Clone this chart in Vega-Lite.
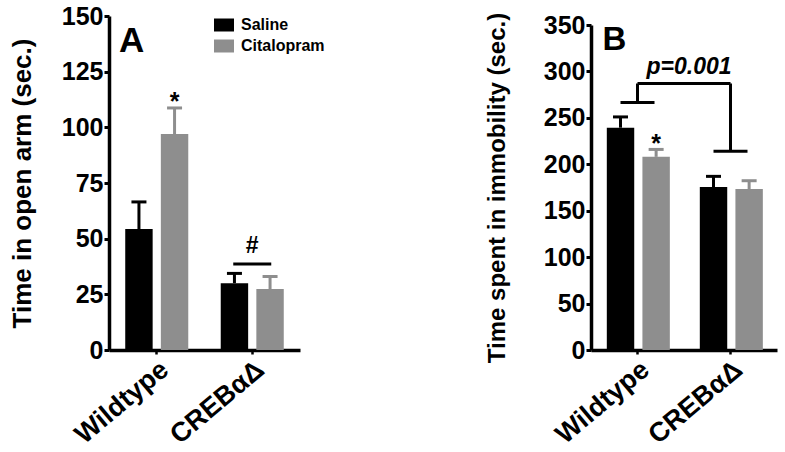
{
  "$schema": "https://vega.github.io/schema/vega-lite/v6.json",
  "padding": {"left": 9, "top": 4, "right": 5, "bottom": 5},
  "background": "#ffffff",
  "datasets": {
    "openArm": [
      {"genotype": "Wildtype", "treatment": "Saline", "value": 54.3, "err": 66.5},
      {"genotype": "Wildtype", "treatment": "Citalopram", "value": 97, "err": 108.7},
      {"genotype": "CREBαΔ", "treatment": "Saline", "value": 30, "err": 34.4},
      {"genotype": "CREBαΔ", "treatment": "Citalopram", "value": 27.4, "err": 33}
    ],
    "immobility": [
      {"genotype": "Wildtype", "treatment": "Saline", "value": 239.4, "err": 251},
      {"genotype": "Wildtype", "treatment": "Citalopram", "value": 208, "err": 216},
      {"genotype": "CREBαΔ", "treatment": "Saline", "value": 175.5, "err": 187},
      {"genotype": "CREBαΔ", "treatment": "Citalopram", "value": 173.4, "err": 182.3}
    ],
    "starA": [{"genotype": "Wildtype", "treatment": "Citalopram", "y": 108, "label": "*"}],
    "hashA": [{"genotype": "CREBαΔ", "y": 43.6, "bar": 38.6, "label": "#"}],
    "panelA": [{"genotype": "Wildtype", "y": 133.8, "label": "A"}],
    "starB": [{"genotype": "Wildtype", "treatment": "Citalopram", "y": 213, "label": "*"}],
    "panelB": [{"genotype": "Wildtype", "y": 323, "label": "B"}],
    "bracketV": [
      {"genotype": "Wildtype", "y": 266.6, "y2": 287},
      {"genotype": "CREBαΔ", "y": 214, "y2": 287}
    ],
    "bracketH": [{"genotype": "Wildtype", "genotype2": "CREBαΔ", "y": 287}],
    "bracketP": [{"genotype": "Wildtype", "y": 297, "label": "p=0.001"}]
  },
  "hconcat": [
    {
      "width": 191,
      "height": 334,
      "layer": [
        {
          "data": {"name": "openArm"},
          "mark": {"type": "bar"},
          "encoding": {
            "x": {"field": "genotype", "type": "nominal", "sort": ["Wildtype", "CREBαΔ"],
                  "scale": {"paddingInner": 0.34, "paddingOuter": 0.17},
                  "axis": {"title": null}},
            "xOffset": {"field": "treatment", "type": "nominal", "sort": ["Saline", "Citalopram"],
                        "scale": {"paddingInner": 0.23, "paddingOuter": 0}},
            "y": {"field": "value", "type": "quantitative",
                  "scale": {"domain": [0, 150], "nice": false},
                  "axis": {"title": "Time in open arm (sec.)", "values": [0, 25, 50, 75, 100, 125, 150], "titlePadding": 26, "titleFontSize": 26}},
            "color": {"field": "treatment", "type": "nominal",
                      "scale": {"domain": ["Saline", "Citalopram"], "range": ["#000000", "#8e8e8e"]},
                      "legend": {"orient": "none", "legendX": 105, "legendY": -1, "title": null,
                                 "symbolType": "M-1,-0.65H1V0.65H-1Z", "symbolSize": 400, "symbolStrokeWidth": 0,
                                 "labelFontSize": 16, "labelFontWeight": "bold", "labelFont": "Liberation Sans",
                                 "labelColor": "#000000", "labelOffset": 7, "rowPadding": 3, "padding": 0}}
          }
        },
        {
          "data": {"name": "openArm"},
          "mark": {"type": "rule", "strokeWidth": 3},
          "encoding": {
            "x": {"field": "genotype", "type": "nominal", "sort": ["Wildtype", "CREBαΔ"]},
            "xOffset": {"field": "treatment", "type": "nominal", "sort": ["Saline", "Citalopram"]},
            "y": {"field": "value", "type": "quantitative"},
            "y2": {"field": "err"},
            "color": {"field": "treatment", "type": "nominal", "legend": null}
          }
        },
        {
          "data": {"name": "openArm"},
          "mark": {"type": "tick", "orient": "horizontal", "size": 15, "thickness": 3, "opacity": 1},
          "encoding": {
            "x": {"field": "genotype", "type": "nominal", "sort": ["Wildtype", "CREBαΔ"]},
            "xOffset": {"field": "treatment", "type": "nominal", "sort": ["Saline", "Citalopram"]},
            "y": {"field": "err", "type": "quantitative"},
            "color": {"field": "treatment", "type": "nominal", "legend": null}
          }
        },
        {
          "data": {"name": "starA"},
          "mark": {"type": "text", "fontSize": 25, "fontWeight": "bold", "color": "#000000", "baseline": "alphabetic"},
          "encoding": {
            "x": {"field": "genotype", "type": "nominal", "sort": ["Wildtype", "CREBαΔ"]},
            "xOffset": {"field": "treatment", "type": "nominal", "sort": ["Saline", "Citalopram"]},
            "y": {"field": "y", "type": "quantitative"},
            "text": {"field": "label"}
          }
        },
        {
          "data": {"name": "hashA"},
          "mark": {"type": "text", "fontSize": 23, "fontWeight": "bold", "color": "#000000", "baseline": "alphabetic"},
          "encoding": {
            "x": {"field": "genotype", "type": "nominal", "sort": ["Wildtype", "CREBαΔ"]},
            "y": {"field": "y", "type": "quantitative"},
            "text": {"field": "label"}
          }
        },
        {
          "data": {"name": "hashA"},
          "mark": {"type": "tick", "orient": "horizontal", "size": 38, "thickness": 3, "color": "#000000", "opacity": 1},
          "encoding": {
            "x": {"field": "genotype", "type": "nominal", "sort": ["Wildtype", "CREBαΔ"]},
            "y": {"field": "bar", "type": "quantitative"}
          }
        },
        {
          "data": {"name": "panelA"},
          "mark": {"type": "text", "fontSize": 35, "fontWeight": "bold", "color": "#000000", "baseline": "alphabetic", "align": "center", "dx": -25},
          "encoding": {
            "x": {"field": "genotype", "type": "nominal", "sort": ["Wildtype", "CREBαΔ"]},
            "y": {"field": "y", "type": "quantitative"},
            "text": {"field": "label"}
          }
        }
      ]
    },
    {
      "width": 186,
      "height": 334,
      "layer": [
        {
          "data": {"name": "immobility"},
          "mark": {"type": "bar"},
          "encoding": {
            "x": {"field": "genotype", "type": "nominal", "sort": ["Wildtype", "CREBαΔ"],
                  "scale": {"paddingInner": 0.34, "paddingOuter": 0.17},
                  "axis": {"title": null}},
            "xOffset": {"field": "treatment", "type": "nominal", "sort": ["Saline", "Citalopram"],
                        "scale": {"paddingInner": 0.23, "paddingOuter": 0}},
            "y": {"field": "value", "type": "quantitative",
                  "scale": {"domain": [0, 350], "nice": false, "range": [334, 9]},
                  "axis": {"title": "Time spent in immobility (sec.)", "values": [0, 50, 100, 150, 200, 250, 300, 350], "titlePadding": 34, "titleFontSize": 24}},
            "color": {"field": "treatment", "type": "nominal",
                      "scale": {"domain": ["Saline", "Citalopram"], "range": ["#000000", "#8e8e8e"]},
                      "legend": null}
          }
        },
        {
          "data": {"name": "immobility"},
          "mark": {"type": "rule", "strokeWidth": 3},
          "encoding": {
            "x": {"field": "genotype", "type": "nominal", "sort": ["Wildtype", "CREBαΔ"]},
            "xOffset": {"field": "treatment", "type": "nominal", "sort": ["Saline", "Citalopram"]},
            "y": {"field": "value", "type": "quantitative"},
            "y2": {"field": "err"},
            "color": {"field": "treatment", "type": "nominal", "legend": null}
          }
        },
        {
          "data": {"name": "immobility"},
          "mark": {"type": "tick", "orient": "horizontal", "size": 15, "thickness": 3, "opacity": 1},
          "encoding": {
            "x": {"field": "genotype", "type": "nominal", "sort": ["Wildtype", "CREBαΔ"]},
            "xOffset": {"field": "treatment", "type": "nominal", "sort": ["Saline", "Citalopram"]},
            "y": {"field": "err", "type": "quantitative"},
            "color": {"field": "treatment", "type": "nominal", "legend": null}
          }
        },
        {
          "data": {"name": "starB"},
          "mark": {"type": "text", "fontSize": 25, "fontWeight": "bold", "color": "#000000", "baseline": "alphabetic"},
          "encoding": {
            "x": {"field": "genotype", "type": "nominal", "sort": ["Wildtype", "CREBαΔ"]},
            "xOffset": {"field": "treatment", "type": "nominal", "sort": ["Saline", "Citalopram"]},
            "y": {"field": "y", "type": "quantitative"},
            "text": {"field": "label"}
          }
        },
        {
          "data": {"name": "bracketV"},
          "mark": {"type": "rule", "strokeWidth": 3, "color": "#000000"},
          "encoding": {
            "x": {"field": "genotype", "type": "nominal", "sort": ["Wildtype", "CREBαΔ"]},
            "y": {"field": "y", "type": "quantitative"},
            "y2": {"field": "y2"}
          }
        },
        {
          "data": {"name": "bracketV"},
          "mark": {"type": "tick", "orient": "horizontal", "size": 34, "thickness": 3, "color": "#000000", "opacity": 1},
          "encoding": {
            "x": {"field": "genotype", "type": "nominal", "sort": ["Wildtype", "CREBαΔ"]},
            "y": {"field": "y", "type": "quantitative"}
          }
        },
        {
          "data": {"name": "bracketH"},
          "mark": {"type": "rule", "strokeWidth": 3, "color": "#000000"},
          "encoding": {
            "x": {"field": "genotype", "type": "nominal", "sort": ["Wildtype", "CREBαΔ"]},
            "x2": {"field": "genotype2"},
            "y": {"field": "y", "type": "quantitative"}
          }
        },
        {
          "data": {"name": "bracketP"},
          "mark": {"type": "text", "fontSize": 23, "fontWeight": "bold", "fontStyle": "italic", "color": "#000000", "baseline": "alphabetic", "align": "left", "dx": 9},
          "encoding": {
            "x": {"field": "genotype", "type": "nominal", "sort": ["Wildtype", "CREBαΔ"]},
            "y": {"field": "y", "type": "quantitative"},
            "text": {"field": "label"}
          }
        },
        {
          "data": {"name": "panelB"},
          "mark": {"type": "text", "fontSize": 33, "fontWeight": "bold", "color": "#000000", "baseline": "alphabetic", "align": "center", "dx": -23},
          "encoding": {
            "x": {"field": "genotype", "type": "nominal", "sort": ["Wildtype", "CREBαΔ"]},
            "y": {"field": "y", "type": "quantitative"},
            "text": {"field": "label"}
          }
        }
      ]
    }
  ],
  "spacing": 160,
  "resolve": {"scale": {"y": "independent", "x": "independent", "color": "independent"}},
  "config": {
    "font": "Liberation Sans",
    "view": {"stroke": null},
    "axis": {
      "grid": false,
      "domainColor": "#000000",
      "domainWidth": 3.5,
      "tickColor": "#000000",
      "tickWidth": 3,
      "tickSize": 5,
      "labelFont": "Liberation Sans",
      "labelFontWeight": "bold",
      "labelFontSize": 25,
      "labelColor": "#000000",
      "labelPadding": 1,
      "titleFont": "Liberation Sans",
      "titleFontWeight": "bold",
      "titleColor": "#000000"
    },
    "axisX": {"labelAngle": -40, "tickSize": 4, "tickWidth": 2.5, "labelPadding": 2, "labelFontSize": 27},
    "axisY": {"labelPadding": 1}
  }
}
